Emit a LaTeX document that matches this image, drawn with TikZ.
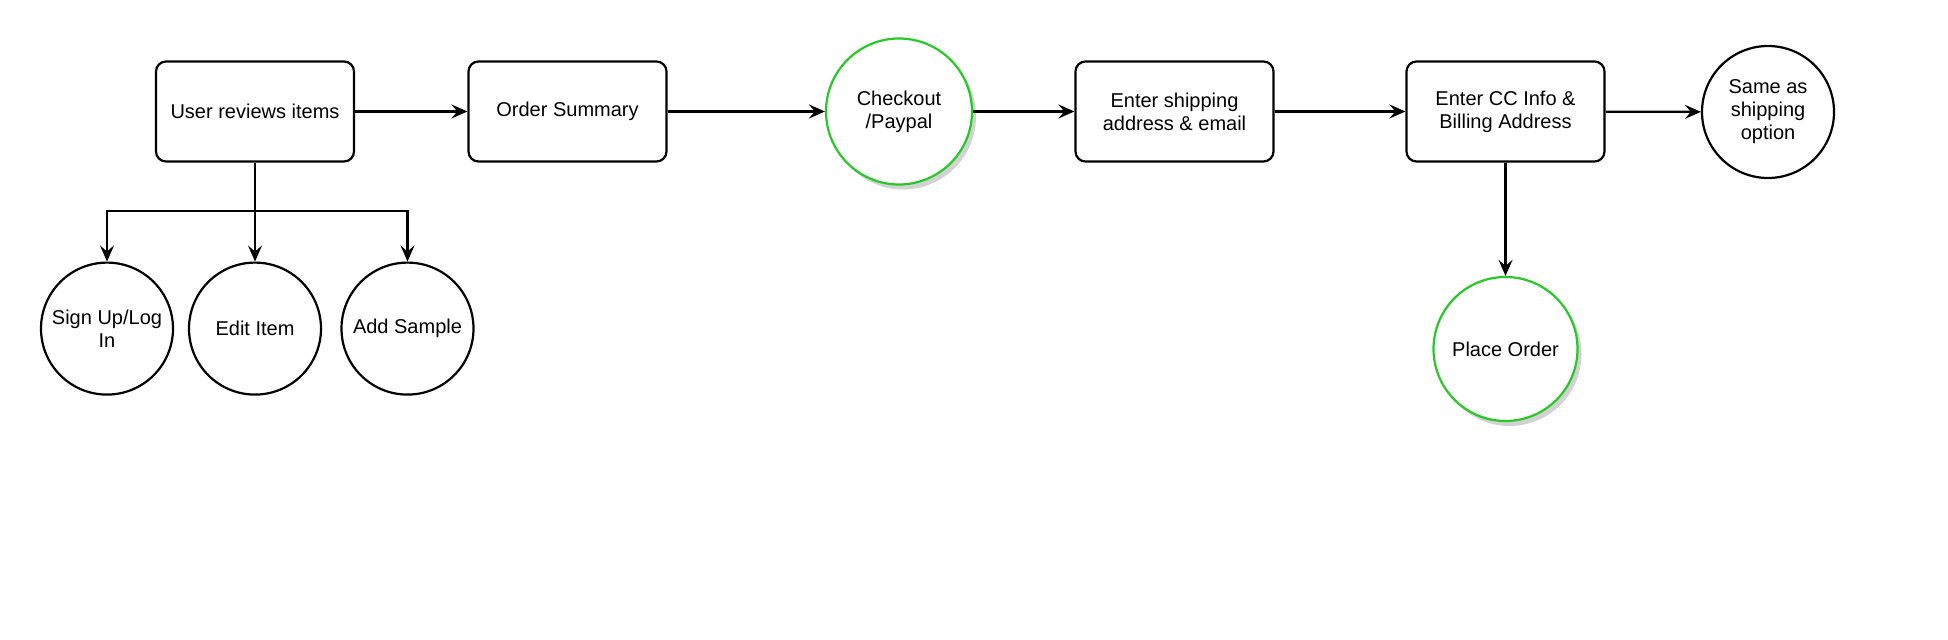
\documentclass[tikz,border=0pt]{standalone}
\usepackage{fontspec}
\setmainfont{Liberation Sans}
\usetikzlibrary{arrows.meta,shadows}
\definecolor{okgreen}{RGB}{40,200,40}

\begin{document}
\begin{tikzpicture}[x=0.5pt, y=-0.5pt, >={Stealth[length=8pt,width=7pt,inset=3pt]}, font=\fontsize{10}{11.5}\selectfont, stepbox/.style={draw, line width=1.1pt, rounded corners=5pt, align=center, minimum width=99pt, minimum height=50pt}, endpoint/.style={draw, circle, line width=1.1pt, align=center, inner sep=0pt, minimum size=66pt}, goal/.style={endpoint, draw=okgreen, fill=white, drop shadow={shadow xshift=2pt, shadow yshift=-2.5pt, fill=black!35}}, arr/.style={->, line width=1.1pt}]
\useasboundingbox (0,0) rectangle (1948,640);
\node[stepbox] (user) at (255,111.5) {User reviews items};
\node[stepbox] (summary) at (567.5,111.5) {Order Summary};
\node[goal, minimum size=73pt] (checkout) at (899,111.5) {Checkout\\/Paypal};
\node[stepbox] (shipping) at (1174.5,111.5) {Enter shipping\\address \& email};
\node[stepbox] (billing) at (1505.5,111.5) {Enter CC Info \&\\Billing Address};
\node[endpoint] (sameas) at (1768,112) {Same as\\shipping\\option};
\node[goal, minimum size=72pt] (place) at (1505.5,349) {Place Order};
\node[endpoint] (signup) at (107,328.6) {Sign Up/Log\\In};
\node[endpoint] (edit) at (255,328.6) {Edit Item};
\node[endpoint] (sample) at (407.5,328.6) {Add Sample};
\coordinate (split) at (255,211);
\draw[arr] (user) -- (summary);
\draw[arr] (summary) -- (checkout);
\draw[arr] (checkout) -- (shipping);
\draw[arr] (shipping) -- (billing);
\draw[arr] (billing) -- (sameas);
\draw[arr] (billing) -- (place);
\draw[arr] (user.south) -- (split) -| (signup.north);
\draw[arr] (split) -- (edit);
\draw[arr] (split) -| (sample.north);
\end{tikzpicture}
\end{document}
